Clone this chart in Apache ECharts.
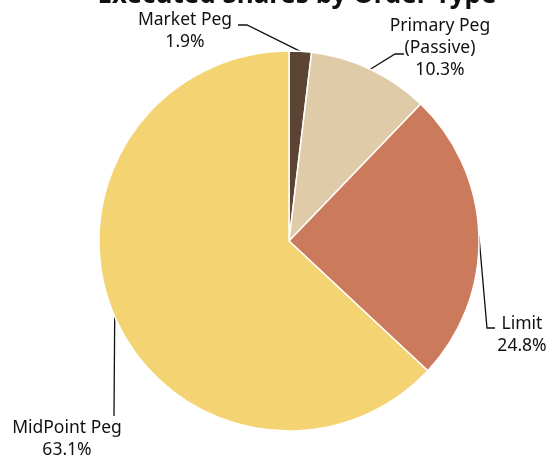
<!DOCTYPE html>
<html>
<head>
<meta charset="utf-8">
<style>html,body{margin:0;padding:0;background:#fff}#c{width:552px;height:460px}</style>
<script src="https://cdn.jsdelivr.net/npm/echarts@6/dist/echarts.min.js"></script>
</head>
<body>
<div id="c"></div>
<script>
const categories = ['Market Peg', 'Primary Peg\n(Passive)', 'Limit', 'MidPoint Peg'];
const values = [1.9, 10.3, 24.8, 63.1];
const colors = ['#5b4434', '#dfcba7', '#cc7a5c', '#f4d372'];

// label placement (text centre) and leader-line bend points
const labelPos = [
  {x: 185, y: 31, pts: [[247, 25], [238, 25]]},
  {x: 440, y: 48, pts: [[395, 54], [404, 54]]},
  {x: 522, y: 335, pts: [[487, 328], [495, 328]]},
  {x: 67, y: 439, pts: [[114, 416]]}
];

const chart = echarts.init(document.getElementById('c'));
chart.setOption({
  animation: false,
  title: {
    text: 'Executed Shares by Order Type',
    left: 292, top: -22, textAlign: 'center',
    textStyle: {fontFamily: 'Noto Sans', fontWeight: 'bold', fontSize: 26, color: '#111'}
  },
  series: [{
    type: 'pie',
    center: [289, 241],
    radius: 190,
    startAngle: 90,
    clockwise: true,
    itemStyle: {borderColor: '#fff', borderWidth: 1.5},
    label: {
      show: true,
      overflow: 'none',
      formatter: p => p.name + '\n' + p.value + '%',
      fontFamily: 'Noto Sans', fontSize: 17.5, lineHeight: 22, color: '#111'
    },
    labelLine: {show: true, lineStyle: {color: '#111', width: 1.3}},
    labelLayout: function (params) {
      const lp = labelPos[params.dataIndex];
      const start = params.labelLinePoints ? params.labelLinePoints[0] : lp.pts[0];
      return {
        x: lp.x, y: lp.y, align: 'center', verticalAlign: 'middle',
        labelLinePoints: [start].concat(lp.pts)
      };
    },
    data: categories.map((c, i) => ({name: c, value: values[i], itemStyle: {color: colors[i]}}))
  }]
});
</script>
</body>
</html>
